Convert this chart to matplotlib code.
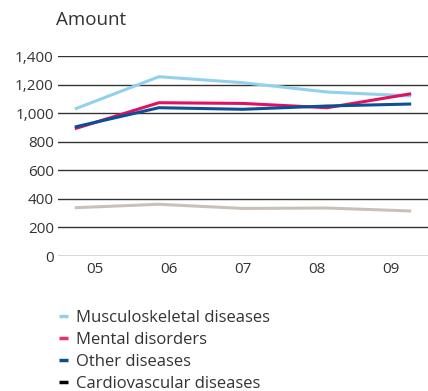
import numpy as np
import matplotlib.pyplot as plt

years = ["05", "06", "07", "08", "09"]
musculoskeletal = [1029, 1255, 1213, 1148, 1120]
mental = [891, 1073, 1068, 1038, 1136]
other = [903, 1038, 1027, 1050, 1064]
cardiovascular = [338, 362, 333, 336, 315]

plt.rcParams['font.family'] = ['Open Sans', 'DejaVu Sans']

fig = plt.figure(figsize=(4.28, 3.91), dpi=100)
ax = fig.add_axes([58 / 428, 1 - 256 / 391, 1 - 58 / 428, 200 / 391])

x = np.arange(len(years))
series = [
    (musculoskeletal, "#92d1ee", "#92d1ee", "Musculoskeletal diseases"),
    (mental, "#e0115f", "#e8336a", "Mental disorders"),
    (other, "#0b4f98", "#0b4f98", "Other diseases"),
    (cardiovascular, "#c9c1b8", "#000000", "Cardiovascular diseases"),
]
handles = []
for vals, col, legcol, lab in series:
    ax.plot(x, vals, color=col, lw=2.2, solid_capstyle='butt', zorder=3)
    h, = ax.plot([], [], color=legcol, lw=2.5, solid_capstyle='butt', label=lab)
    handles.append(h)

ax.set_xlim(-0.2, 4.2)
ax.set_ylim(0, 1400)
ax.set_yticks(range(0, 1401, 200))
ax.set_yticklabels([f"{v:,}" for v in range(0, 1401, 200)])
# labels sit at centres of five equal bands across the plot width
ax.set_xticks(-0.2 + (x + 0.5) * 4.4 / 5)
ax.set_xticklabels(years)
ax.tick_params(length=0, labelsize=11, colors="#333333")
ax.tick_params(axis='y', pad=3)
ax.tick_params(axis='x', pad=4)
ax.grid(axis='y', color="#333333", lw=1.0)
ax.set_axisbelow(True)
for s in ax.spines.values():
    s.set_visible(False)

fig.text(56 / 428, 1 - 20 / 391, "Amount", fontsize=13.5,
         color="#333333", va='center', ha='left')

fig.legend(handles=handles, loc='upper left', bbox_to_anchor=(44 / 428, 1 - 295 / 391),
           frameon=False, fontsize=12, handlelength=0.55, handletextpad=0.45,
           labelspacing=0.36, labelcolor="#333333")

fig.savefig("out.png", dpi=100)
